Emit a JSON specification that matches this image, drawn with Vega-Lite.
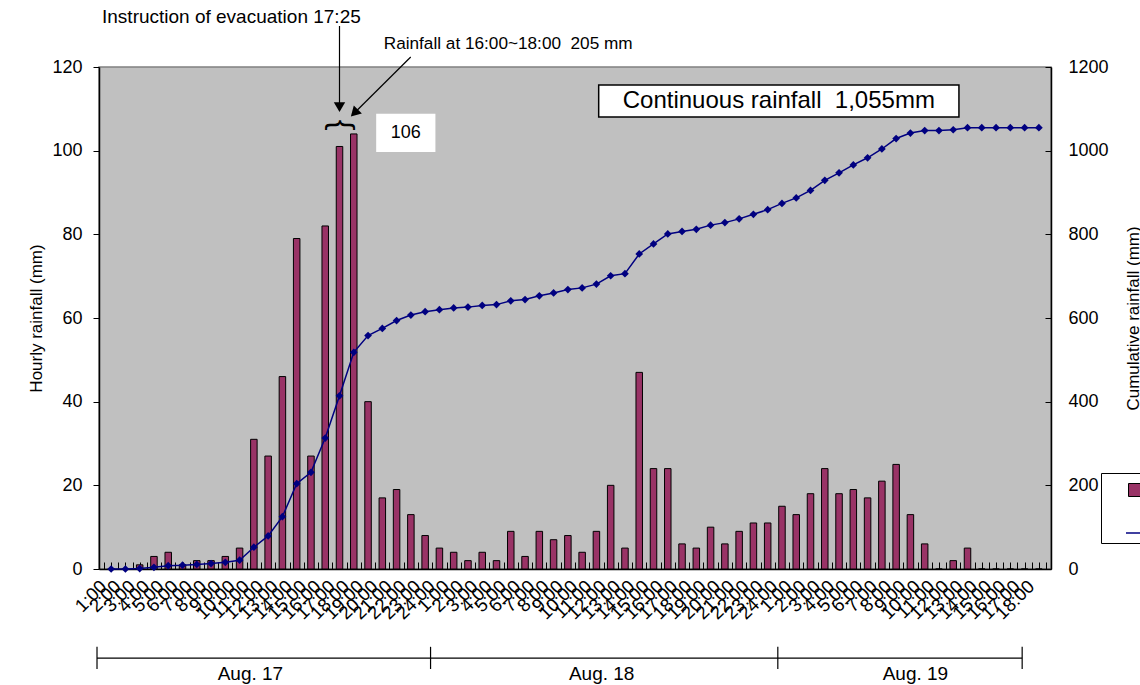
{
  "$schema": "https://vega.github.io/schema/vega-lite/v6.json",
  "width": 952,
  "height": 502,
  "padding": {"left": 27, "top": 8, "right": 0, "bottom": 0},
  "background": "white",
  "config": {
    "font": "Liberation Sans",
    "view": {"fill": "#c0c0c0", "stroke": "#808080", "strokeWidth": 1.5},
    "axis": {"grid": false, "domainColor": "black", "tickColor": "black", "labelColor": "black", "titleColor": "black", "titleFontWeight": "normal", "domainWidth": 1.5},
    "axisX": {"labelAngle": -45, "labelAlign": "right", "labelBaseline": "middle", "labelFontSize": 18.5, "labelOverlap": false, "labelFlush": false, "tickSize": -7, "labelPadding": 21, "labelOffset": -8, "tickCount": 132, "labelExpr": "datum.value % 1 == 0 ? ((datum.value - 1) % 24 + 1) + ':00' : ''", "tickColor": {"expr": "'black'"}}
  },
  "datasets": {
    "rain": [
      {"hr": 1, "t": "8/17 1:00", "h": 0, "c": 0}, {"hr": 2, "t": "8/17 2:00", "h": 0, "c": 0}, {"hr": 3, "t": "8/17 3:00", "h": 1, "c": 1}, {"hr": 4, "t": "8/17 4:00", "h": 3, "c": 4},
      {"hr": 5, "t": "8/17 5:00", "h": 4, "c": 8}, {"hr": 6, "t": "8/17 6:00", "h": 1, "c": 9}, {"hr": 7, "t": "8/17 7:00", "h": 2, "c": 11}, {"hr": 8, "t": "8/17 8:00", "h": 2, "c": 13},
      {"hr": 9, "t": "8/17 9:00", "h": 3, "c": 16}, {"hr": 10, "t": "8/17 10:00", "h": 5, "c": 21}, {"hr": 11, "t": "8/17 11:00", "h": 31, "c": 52}, {"hr": 12, "t": "8/17 12:00", "h": 27, "c": 79},
      {"hr": 13, "t": "8/17 13:00", "h": 46, "c": 125}, {"hr": 14, "t": "8/17 14:00", "h": 79, "c": 204}, {"hr": 15, "t": "8/17 15:00", "h": 27, "c": 231}, {"hr": 16, "t": "8/17 16:00", "h": 82, "c": 313},
      {"hr": 17, "t": "8/17 17:00", "h": 101, "c": 414}, {"hr": 18, "t": "8/17 18:00", "h": 104, "c": 518}, {"hr": 19, "t": "8/17 19:00", "h": 40, "c": 558}, {"hr": 20, "t": "8/17 20:00", "h": 17, "c": 575},
      {"hr": 21, "t": "8/17 21:00", "h": 19, "c": 594}, {"hr": 22, "t": "8/17 22:00", "h": 13, "c": 607}, {"hr": 23, "t": "8/17 23:00", "h": 8, "c": 615}, {"hr": 24, "t": "8/17 24:00", "h": 5, "c": 620},
      {"hr": 25, "t": "8/18 1:00", "h": 4, "c": 624}, {"hr": 26, "t": "8/18 2:00", "h": 2, "c": 626}, {"hr": 27, "t": "8/18 3:00", "h": 4, "c": 630}, {"hr": 28, "t": "8/18 4:00", "h": 2, "c": 632},
      {"hr": 29, "t": "8/18 5:00", "h": 9, "c": 641}, {"hr": 30, "t": "8/18 6:00", "h": 3, "c": 644}, {"hr": 31, "t": "8/18 7:00", "h": 9, "c": 653}, {"hr": 32, "t": "8/18 8:00", "h": 7, "c": 660},
      {"hr": 33, "t": "8/18 9:00", "h": 8, "c": 668}, {"hr": 34, "t": "8/18 10:00", "h": 4, "c": 672}, {"hr": 35, "t": "8/18 11:00", "h": 9, "c": 681}, {"hr": 36, "t": "8/18 12:00", "h": 20, "c": 701},
      {"hr": 37, "t": "8/18 13:00", "h": 5, "c": 706}, {"hr": 38, "t": "8/18 14:00", "h": 47, "c": 753}, {"hr": 39, "t": "8/18 15:00", "h": 24, "c": 777}, {"hr": 40, "t": "8/18 16:00", "h": 24, "c": 801},
      {"hr": 41, "t": "8/18 17:00", "h": 6, "c": 807}, {"hr": 42, "t": "8/18 18:00", "h": 5, "c": 812}, {"hr": 43, "t": "8/18 19:00", "h": 10, "c": 822}, {"hr": 44, "t": "8/18 20:00", "h": 6, "c": 828},
      {"hr": 45, "t": "8/18 21:00", "h": 9, "c": 837}, {"hr": 46, "t": "8/18 22:00", "h": 11, "c": 848}, {"hr": 47, "t": "8/18 23:00", "h": 11, "c": 859}, {"hr": 48, "t": "8/18 24:00", "h": 15, "c": 874},
      {"hr": 49, "t": "8/19 1:00", "h": 13, "c": 887}, {"hr": 50, "t": "8/19 2:00", "h": 18, "c": 905}, {"hr": 51, "t": "8/19 3:00", "h": 24, "c": 929}, {"hr": 52, "t": "8/19 4:00", "h": 18, "c": 947},
      {"hr": 53, "t": "8/19 5:00", "h": 19, "c": 966}, {"hr": 54, "t": "8/19 6:00", "h": 17, "c": 983}, {"hr": 55, "t": "8/19 7:00", "h": 21, "c": 1004}, {"hr": 56, "t": "8/19 8:00", "h": 25, "c": 1029},
      {"hr": 57, "t": "8/19 9:00", "h": 13, "c": 1042}, {"hr": 58, "t": "8/19 10:00", "h": 6, "c": 1048}, {"hr": 59, "t": "8/19 11:00", "h": 0, "c": 1048}, {"hr": 60, "t": "8/19 12:00", "h": 2, "c": 1050},
      {"hr": 61, "t": "8/19 13:00", "h": 5, "c": 1055}, {"hr": 62, "t": "8/19 14:00", "h": 0, "c": 1055}, {"hr": 63, "t": "8/19 15:00", "h": 0, "c": 1055}, {"hr": 64, "t": "8/19 16:00", "h": 0, "c": 1055},
      {"hr": 65, "t": "8/19 17:00", "h": 0, "c": 1055}, {"hr": 66, "t": "8/19 18:00", "h": 0, "c": 1055}
    ],
    "note": [{"n": 1}]
  },
  "layer": [
    {
      "layer": [
        {
          "data": {"name": "rain"},
          "mark": {"type": "bar", "orient": "vertical", "width": 6.5, "stroke": "black", "strokeWidth": 1},
          "encoding": {
            "x": {
              "field": "hr", "type": "quantitative", "title": " ",
              "scale": {"domain": [0.5, 66.5], "nice": false, "zero": false}
            },
            "y": {
              "field": "h", "type": "quantitative", "title": "Hourly rainfall (mm)",
              "scale": {"domain": [0, 120], "nice": false},
              "axis": {"values": [0, 20, 40, 60, 80, 100, 120], "tickSize": 6, "labelPadding": 11, "labelFontSize": 18, "titleFontSize": 17, "titlePadding": 6}
            },
            "fill": {
              "datum": "Hourly rainfall",
              "scale": {"range": ["#993366"]},
              "legend": {
                "title": " ", "titleOrient": "bottom", "titleFontSize": 30, "titlePadding": 6,
                "orient": "none", "legendX": 1002, "legendY": 406, "padding": 8, "symbolOffset": 17,
                "strokeColor": "black", "fillColor": "white", "symbolType": "square", "symbolSize": 169,
                "symbolStrokeColor": "black", "symbolStrokeWidth": 1, "labelFontSize": 18, "labelOffset": 8, "labelColor": "black"
              }
            }
          }
        },
        {"data": {"name": "note"}, "mark": {"type": "rule", "color": "black", "strokeWidth": 1.2}, "encoding": {"x": {"datum": 0.01, "type": "quantitative", "title": " "}, "x2": {"datum": 64.83}, "y": {"datum": -21.3, "type": "quantitative"}}},
        {"data": {"name": "note"}, "mark": {"type": "rule", "color": "black", "strokeWidth": 1.2}, "encoding": {"x": {"datum": 0.01, "type": "quantitative", "title": " "}, "y": {"datum": -18.6, "type": "quantitative"}, "y2": {"datum": -23.9}}},
        {"data": {"name": "note"}, "mark": {"type": "rule", "color": "black", "strokeWidth": 1.2}, "encoding": {"x": {"datum": 23.38, "type": "quantitative", "title": " "}, "y": {"datum": -18.6, "type": "quantitative"}, "y2": {"datum": -23.9}}},
        {"data": {"name": "note"}, "mark": {"type": "rule", "color": "black", "strokeWidth": 1.2}, "encoding": {"x": {"datum": 47.71, "type": "quantitative", "title": " "}, "y": {"datum": -18.6, "type": "quantitative"}, "y2": {"datum": -23.9}}},
        {"data": {"name": "note"}, "mark": {"type": "rule", "color": "black", "strokeWidth": 1.2}, "encoding": {"x": {"datum": 64.83, "type": "quantitative", "title": " "}, "y": {"datum": -18.6, "type": "quantitative"}, "y2": {"datum": -23.9}}},
        {"data": {"name": "note"}, "mark": {"type": "text", "text": "Aug. 17", "fontSize": 19, "align": "center", "baseline": "middle", "color": "black"}, "encoding": {"x": {"datum": 10.76, "type": "quantitative", "title": " "}, "y": {"datum": -25.1, "type": "quantitative"}}},
        {"data": {"name": "note"}, "mark": {"type": "text", "text": "Aug. 18", "fontSize": 19, "align": "center", "baseline": "middle", "color": "black"}, "encoding": {"x": {"datum": 35.37, "type": "quantitative", "title": " "}, "y": {"datum": -25.1, "type": "quantitative"}}},
        {"data": {"name": "note"}, "mark": {"type": "text", "text": "Aug. 19", "fontSize": 19, "align": "center", "baseline": "middle", "color": "black"}, "encoding": {"x": {"datum": 57.35, "type": "quantitative", "title": " "}, "y": {"datum": -25.1, "type": "quantitative"}}},
        {"data": {"name": "note"}, "mark": {"type": "text", "text": "Instruction of evacuation 17:25", "fontSize": 19, "align": "left", "baseline": "middle", "color": "black"}, "encoding": {"x": {"datum": 0.36, "type": "quantitative", "title": " "}, "y": {"datum": 131.95, "type": "quantitative"}}},
        {"data": {"name": "note"}, "mark": {"type": "text", "text": "Rainfall at 16:00~18:00\u00a0 205 mm", "fontSize": 17.2, "align": "left", "baseline": "middle", "color": "black"}, "encoding": {"x": {"datum": 20.1, "type": "quantitative", "title": " "}, "y": {"datum": 125.5, "type": "quantitative"}}},
        {"data": {"name": "note"}, "mark": {"type": "rule", "color": "black", "strokeWidth": 1.2}, "encoding": {"x": {"datum": 17.0, "type": "quantitative", "title": " "}, "y": {"datum": 129.8, "type": "quantitative"}, "y2": {"datum": 110.4}}},
        {"data": {"name": "note"}, "mark": {"type": "point", "shape": "triangle-down", "filled": true, "color": "black", "size": 130, "opacity": 1}, "encoding": {"x": {"datum": 17.0, "type": "quantitative", "title": " "}, "y": {"datum": 110.4, "type": "quantitative"}}},
        {"data": {"name": "note"}, "mark": {"type": "rule", "color": "black", "strokeWidth": 1.2}, "encoding": {"x": {"datum": 21.99, "type": "quantitative", "title": " "}, "x2": {"datum": 18.04}, "y": {"datum": 122.4, "type": "quantitative"}, "y2": {"datum": 109.0}}},
        {"data": {"name": "note"}, "mark": {"type": "point", "shape": "triangle-down", "filled": true, "color": "black", "size": 130, "opacity": 1, "angle": 45}, "encoding": {"x": {"datum": 18.04, "type": "quantitative", "title": " "}, "y": {"datum": 109.0, "type": "quantitative"}}},
        {"data": {"name": "note"}, "mark": {"type": "text", "text": "{", "fontSize": 32, "angle": 90, "align": "center", "baseline": "middle", "color": "black"}, "encoding": {"x": {"datum": 17.17, "type": "quantitative", "title": " "}, "y": {"datum": 106.1, "type": "quantitative"}}},
        {"data": {"name": "note"}, "mark": {"type": "rect", "fill": "white"}, "encoding": {"x": {"datum": 19.57, "type": "quantitative", "title": " "}, "x2": {"datum": 23.72}, "y": {"datum": 99.7, "type": "quantitative"}, "y2": {"datum": 108.8}}},
        {"data": {"name": "note"}, "mark": {"type": "text", "text": "106", "fontSize": 18, "align": "center", "baseline": "middle", "color": "black"}, "encoding": {"x": {"datum": 21.65, "type": "quantitative", "title": " "}, "y": {"datum": 104.2, "type": "quantitative"}}},
        {"data": {"name": "note"}, "mark": {"type": "rect", "fill": "white", "stroke": "black", "strokeWidth": 1.5}, "encoding": {"x": {"datum": 35.16, "type": "quantitative", "title": " "}, "x2": {"datum": 60.4}, "y": {"datum": 108.05, "type": "quantitative"}, "y2": {"datum": 115.7}}},
        {"data": {"name": "note"}, "mark": {"type": "text", "text": "Continuous rainfall\u00a0 1,055mm", "fontSize": 24, "align": "center", "baseline": "middle", "color": "black"}, "encoding": {"x": {"datum": 47.78, "type": "quantitative", "title": " "}, "y": {"datum": 111.9, "type": "quantitative"}}}
      ]
    },
    {
      "data": {"name": "rain"},
      "encoding": {
        "x": {"field": "hr", "type": "quantitative", "title": " "},
        "y": {
          "field": "c", "type": "quantitative",
          "scale": {"domain": [0, 1200], "nice": false},
          "axis": {"orient": "right", "title": "Cumulative rainfall (mm)", "titleAngle": 270, "titleBaseline": "top", "values": [0, 200, 400, 600, 800, 1000, 1200], "format": "d", "tickSize": -6, "labelPadding": 23, "labelFontSize": 18, "titleFontSize": 17, "titlePadding": 17}
        }
      },
      "layer": [
        {
          "mark": {"type": "line", "strokeWidth": 1.5},
          "encoding": {
            "stroke": {
              "datum": "Cumulative rainfall",
              "scale": {"range": ["#000080"]},
              "legend": {
                "title": null, "orient": "none", "legendX": 1002, "legendY": 450, "padding": 0, "symbolOffset": 24,
                "symbolType": "stroke", "symbolSize": 900, "symbolStrokeWidth": 1.5, "labelFontSize": 18, "labelOffset": 8, "labelColor": "black"
              }
            }
          }
        },
        {"mark": {"type": "point", "shape": "diamond", "filled": true, "color": "#000080", "size": 60, "opacity": 1}}
      ]
    }
  ],
  "resolve": {"scale": {"y": "independent"}}
}
